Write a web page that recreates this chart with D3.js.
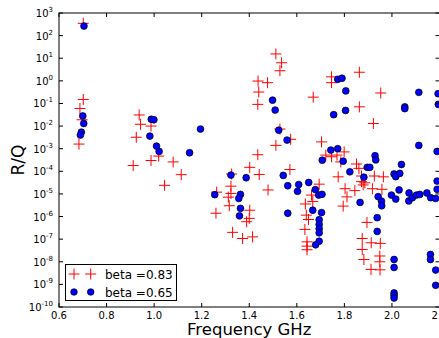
<!DOCTYPE html>
<html><head><meta charset="utf-8">
<script src="https://cdn.jsdelivr.net/npm/d3@7"></script>
<style>body{margin:0;background:#fff}svg{display:block}</style>
</head><body><svg id="c" width="439" height="338"></svg>
<script>
// beta = 0.83 (red crosses): frequency GHz, R/Q
const redFreq = [0.702,0.702,0.688,0.697,0.684,0.937,0.943,0.987,0.925,1.019,0.987,1.080,0.912,1.114,1.044,
 1.512,1.536,1.529,1.437,1.477,1.440,1.436,1.529,1.574,1.512,1.436,1.402,1.326,1.442,1.571,1.669,
 1.323,1.263,1.323,1.312,1.316,1.479,1.260,1.402,1.400,1.389,1.330,1.372,1.414,
 1.746,1.746,1.863,1.953,1.863,1.922,1.704,1.722,1.746,1.769,1.799,1.785,1.851,1.861,1.774,1.872,1.926,1.964,
 1.694,1.803,1.844,1.879,1.872,1.918,1.958,1.795,1.811,1.895,1.875,1.913,1.951,1.875,1.949,1.882,1.949,1.912,1.950,
 1.662,1.667,1.636,1.640,1.649,1.634,1.643,1.643,1.643,1.886];
const redRQ = [350,0.15,0.06,0.019,0.0016,0.031,0.012,0.010,0.0032,4.7e-4,3.0e-4,2.6e-4,1.8e-4,7.1e-5,2.4e-5,
 15.5,6.3,2.8,0.98,0.83,0.32,0.091,0.0074,0.0026,0.0014,5.4e-4,1.5e-4,7.6e-5,7.2e-5,1.2e-4,0.19,
 2.2e-5,1.2e-5,1.05e-5,7.2e-6,3.0e-6,1.5e-5,1.4e-6,1.9e-6,8.3e-7,5.9e-7,2.0e-7,1.07e-7,1.26e-7,
 1.5,0.83,2.4,0.29,0.071,0.013,0.0020,5.2e-4,4.4e-4,5.2e-4,7.2e-4,2.6e-4,2.1e-4,1.35e-4,5.7e-5,6.2e-5,6.2e-5,5.7e-5,
 2.7e-5,1.7e-5,1.4e-5,2.5e-5,3.5e-5,1.7e-5,1.6e-5,2.9e-6,7.4e-6,5.5e-7,1.07e-7,6.9e-8,6.5e-8,3.5e-8,1.8e-8,1.26e-8,1.0e-8,4.6e-9,4.4e-9,
 8.9e-6,4.6e-6,3.6e-6,1.15e-6,7.4e-7,2.7e-7,7.6e-8,4.9e-8,3.4e-8,3.1e-5];
// beta = 0.65 (blue circles)
const blueFreq = [0.705,0.700,0.704,0.694,0.690,0.988,0.999,0.982,1.195,1.010,1.021,1.149,
 1.498,1.509,1.524,1.559,1.323,1.387,1.543,1.255,1.363,1.356,1.562,1.608,1.603,1.650,1.363,1.359,1.562,
 1.772,1.790,1.806,2.113,2.194,1.805,1.755,2.054,2.054,2.195,2.113,2.190,1.743,1.772,1.707,1.795,1.929,1.932,2.040,
 1.823,1.896,1.907,1.882,2.009,2.016,2.033,1.942,1.956,1.957,1.998,2.016,2.030,2.072,2.071,2.086,2.103,2.117,2.147,2.163,2.184,2.190,2.190,
 1.866,1.938,1.938,2.009,2.009,2.009,2.009,2.009,2.162,2.162,2.184,2.184,
 1.678,1.692,1.706,1.667,1.704,1.694,1.694,1.694,1.694,1.694,1.679];
const blueRQ = [265,0.028,0.013,0.0054,0.0040,0.020,0.019,0.0036,0.0074,0.0013,7.6e-4,6.6e-4,
 0.14,0.051,0.0066,0.0024,6.8e-5,5.2e-5,6.6e-5,9.3e-6,9.5e-6,6.3e-6,2.3e-5,2.6e-5,1.3e-5,3.2e-5,2.3e-6,1.07e-6,1.4e-6,
 1.17,1.3,0.36,0.31,0.27,0.049,0.032,0.071,0.059,0.091,0.0014,7.6e-4,8.7e-4,0.0010,3.1e-4,2.8e-4,4.9e-4,3.2e-4,2.0e-4,
 9.5e-5,1.5e-4,1.5e-4,5.5e-5,7.6e-5,5.8e-5,8.1e-5,7.6e-6,4.8e-6,3.0e-6,8.9e-6,5.9e-6,1.5e-5,1.1e-5,4.9e-6,6.8e-6,8.9e-6,9.5e-6,1.1e-5,6.8e-6,6.3e-6,1.6e-5,3.7e-5,
 4.2e-6,8.9e-7,2.2e-7,1.26e-8,5.6e-9,4.2e-10,3.3e-10,2.5e-10,2.1e-8,1.26e-8,4.3e-9,9.1e-10,
 1.55e-5,8.9e-6,9.6e-6,1.9e-6,1.5e-6,7.2e-7,4.5e-7,2.9e-7,1.9e-7,8.1e-8,5.6e-8];
const xTicks = [0.6,0.8,1.0,1.2,1.4,1.6,1.8,2.0,2.2];
const xTickLabels = ["0.6","0.8","1.0","1.2","1.4","1.6","1.8","2.0","2.2"];
const yExponents = [3,2,1,0,-1,-2,-3,-4,-5,-6,-7,-8,-9,-10];
const legendLabels = ["beta =0.83","beta =0.65"];

const svg = d3.select("#c");
const L=59, R=439.5, T=13, B=307;
const x = d3.scaleLinear().domain([0.6,2.2]).range([L,R]);
const y = d3.scaleLog().domain([1e-10,1e3]).range([B,T]);
const font = "DejaVu Sans";

svg.append("clipPath").attr("id","cp").append("rect")
  .attr("x",L).attr("y",T).attr("width",R-L).attr("height",B-T);

// points
const g = svg.append("g").attr("clip-path","url(#cp)");
const red = redFreq.map((f,i)=>[f,redRQ[i]]);
const blue = blueFreq.map((f,i)=>[f,blueRQ[i]]);
const cs = 5.5;
g.selectAll("path.r").data(red).join("path")
  .attr("d",d=>{const px=x(d[0]),py=y(d[1]);return `M${px-cs},${py}H${px+cs}M${px},${py-cs}V${py+cs}`;})
  .attr("stroke","#ff0000").attr("stroke-width",1).attr("fill","none");
g.selectAll("circle.b").data(blue).join("circle")
  .attr("cx",d=>x(d[0])).attr("cy",d=>y(d[1])).attr("r",3.4)
  .attr("fill","#0000ff").attr("stroke","#000").attr("stroke-width",0.7);

// frame
svg.append("rect").attr("x",L).attr("y",T).attr("width",R-L).attr("height",B-T)
  .attr("fill","none").attr("stroke","#000").attr("stroke-width",1);

// ticks (inward, all sides)
const tl=4;
xTicks.forEach(t=>{
  const px=x(t);
  svg.append("line").attr("x1",px).attr("x2",px).attr("y1",B).attr("y2",B-tl).attr("stroke","#000");
  svg.append("line").attr("x1",px).attr("x2",px).attr("y1",T).attr("y2",T+tl).attr("stroke","#000");
});
yExponents.forEach(e=>{
  const py=y(Math.pow(10,e));
  svg.append("line").attr("x1",L).attr("x2",L+tl).attr("y1",py).attr("y2",py).attr("stroke","#000");
  svg.append("line").attr("x1",R).attr("x2",R-tl).attr("y1",py).attr("y2",py).attr("stroke","#000");
});
// x tick labels
svg.selectAll("text.xt").data(xTicks).join("text")
  .attr("x",d=>x(d)).attr("y",B+11.5).attr("text-anchor","middle")
  .attr("font-family",font).attr("font-size",10).attr("fill","#000")
  .text((d,i)=>xTickLabels[i]);
// y tick labels
yExponents.forEach(e=>{
  const py=y(Math.pow(10,e));
  const t=svg.append("text").attr("x",53).attr("y",py+4).attr("text-anchor","end")
    .attr("font-family",font).attr("font-size",10).attr("fill","#000");
  t.append("tspan").text("10");
  t.append("tspan").attr("dy",-5).attr("font-size",7).text(String(e));
});
// axis labels
svg.append("text").attr("x",(L+R)/2).attr("y",335).attr("text-anchor","middle")
  .attr("font-family",font).attr("font-size",16.5).text("Frequency GHz");
svg.append("text").attr("transform",`translate(24,${(T+B)/2}) rotate(-90)`).attr("text-anchor","middle")
  .attr("font-family",font).attr("font-size",17).text("R/Q");

// legend
const lg = svg.append("g");
lg.append("rect").attr("x",65.5).attr("y",264.5).attr("width",111).attr("height",36)
  .attr("fill","#fff").attr("stroke","#000").attr("stroke-width",1);
const rows=[274,292], mx=[74,90.7];
mx.forEach(m=>{
  lg.append("path").attr("d",`M${m-cs},${rows[0]}H${m+cs}M${m},${rows[0]-cs}V${rows[0]+cs}`)
    .attr("stroke","#ff0000").attr("stroke-width",1);
  lg.append("circle").attr("cx",m).attr("cy",rows[1]).attr("r",3.3)
    .attr("fill","#0000ff").attr("stroke","#000").attr("stroke-width",0.7);
});
legendLabels.forEach((s,i)=>{
  lg.append("text").attr("x",105).attr("y",rows[i]+4.5).attr("font-family",font)
    .attr("font-size",12).text(s);
});
</script></body></html>
